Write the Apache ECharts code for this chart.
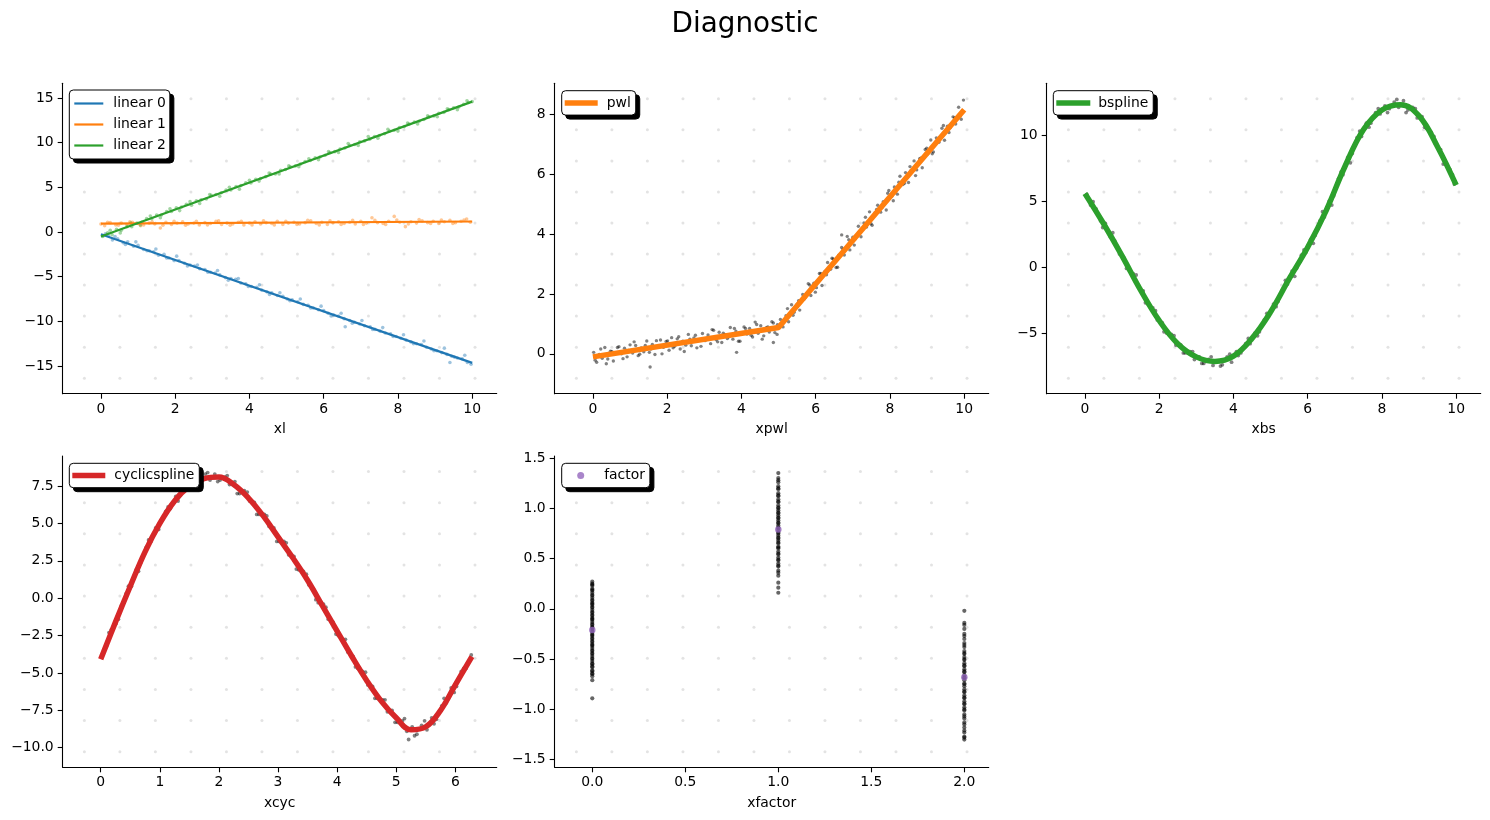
<!DOCTYPE html>
<html>
<head>
<meta charset="utf-8">
<title>Diagnostic</title>
<script src="https://cdn.jsdelivr.net/npm/echarts@6/dist/echarts.min.js"></script>
<style>
  html, body { margin: 0; padding: 0; background: #fff; }
  #chart { width: 1490px; height: 820px; }
</style>
</head>
<body>
<div id="chart"></div>
<script>
// ---------------- data ----------------
// panel 1: three linear terms, fitted lines + partial residuals
const lin0Line = [[0, -0.25], [10, -14.65]];
const lin1Line = [[0, 0.93], [10, 1.18]];
const lin2Line = [[0, -0.5], [10, 14.6]];

const lin0Pts = [[0.05,-0.4],[0.2,-0.4],[0.31,-0.9],[0.45,-0.75],[0.6,-1.2],[0.72,-1.1],[0.88,-1.6],[1.0,-1.5],[1.15,-1.95],[1.3,-2.1],[1.42,-2.2],[1.55,-2.6],[1.7,-2.5],[1.83,-2.9],[1.97,-3.2],[2.1,-3.2],[2.25,-3.5],[2.4,-3.7],[2.52,-3.8],[2.66,-4.1],[2.8,-4.2],[2.95,-4.5],[3.08,-4.6],[3.2,-4.8],[3.35,-5.1],[3.5,-5.2],[3.63,-5.3],[3.77,-5.7],[3.9,-5.8],[4.05,-6.1],[4.2,-6.2],[4.33,-6.5],[4.47,-6.7],[4.6,-6.8],[4.75,-7.1],[4.9,-7.2],[5.02,-7.5],[5.15,-7.6],[5.3,-7.8],[5.45,-8.1],[5.58,-8.2],[5.72,-8.5],[5.86,-8.7],[6.0,-8.8],[6.12,-9.1],[6.27,-9.3],[6.4,-9.4],[6.55,-9.7],[6.58,-10.6],[6.7,-9.9],[6.83,-10.1],[6.97,-10.3],[7.1,-10.5],[7.25,-10.6],[7.38,-10.9],[7.52,-11.1],[7.66,-11.3],[7.8,-11.4],[7.95,-11.7],[8.08,-11.9],[8.22,-12.1],[8.35,-12.3],[8.5,-12.5],[8.63,-12.6],[8.77,-12.9],[8.9,-13.1],[9.05,-13.3],[9.18,-13.5],[9.32,-13.7],[9.4,-14.6],[9.45,-13.9],[9.6,-14.1],[9.73,-14.2],[9.87,-14.6],[9.97,-14.8],
  [0.12,-0.2],[0.38,-0.5],[0.66,-1.4],[0.94,-1.1],[1.24,-2.1],[1.48,-1.9],[1.77,-2.9],[2.04,-2.7],[2.33,-3.8],[2.6,-3.7],[2.88,-4.5],[3.14,-4.3],[3.43,-5.4],[3.7,-5.2],[3.97,-6.1],[4.27,-5.9],[4.54,-7.0],[4.82,-6.8],[5.09,-7.7],[5.37,-7.5],[5.65,-8.5],[5.93,-8.3],[6.2,-9.4],[6.47,-9.1],[6.77,-10.2],[7.03,-9.9],[7.32,-10.9],[7.59,-10.7],[7.87,-11.7],[8.15,-11.5],[8.42,-12.5],[8.7,-12.2],[8.97,-13.3],[9.25,-13.0],[9.52,-14.0],[9.8,-13.8]];
const lin1Pts = [[0.0,0.9],[0.1,0.7],[0.25,1.05],[0.4,0.8],[0.55,1.0],[0.7,0.85],[0.85,1.1],[1.0,0.95],[1.15,0.8],[1.3,1.0],[1.45,0.9],[1.6,0.45],[1.75,1.1],[1.9,0.85],[2.05,1.0],[2.2,1.15],[2.35,0.9],[2.5,1.0],[2.65,0.8],[2.8,1.05],[2.95,0.95],[3.1,1.2],[3.25,0.85],[3.4,1.0],[3.55,0.9],[3.7,1.1],[3.85,0.8],[4.0,1.0],[4.15,1.15],[4.3,0.9],[4.45,1.05],[4.6,0.95],[4.75,1.2],[4.9,0.85],[5.05,1.0],[5.2,1.1],[5.35,0.9],[5.5,1.05],[5.65,1.25],[5.8,0.95],[5.95,1.1],[6.1,0.85],[6.25,1.05],[6.4,1.15],[6.55,0.95],[6.7,1.1],[6.85,0.9],[7.0,1.2],[7.15,1.0],[7.3,1.6],[7.45,1.05],[7.6,0.95],[7.75,1.2],[7.9,1.75],[8.05,1.1],[8.2,0.6],[8.35,1.15],[8.5,1.0],[8.65,1.25],[8.8,1.05],[8.95,1.2],[9.1,0.95],[9.25,1.15],[9.4,1.3],[9.55,1.05],[9.7,1.2],[9.85,1.45],[9.95,1.1],
  [0.18,1.1],[0.47,0.75],[0.78,1.15],[1.07,0.7],[1.38,1.15],[1.67,0.75],[1.97,1.2],[2.28,0.75],[2.57,1.2],[2.87,0.8],[3.17,1.25],[3.48,0.75],[3.78,1.2],[4.07,0.8],[4.38,1.25],[4.67,0.8],[4.98,1.2],[5.28,0.85],[5.57,1.3],[5.88,0.8],[6.17,1.25],[6.47,0.85],[6.78,1.3],[7.07,0.85],[7.38,1.3],[7.67,0.85],[7.97,1.35],[8.28,0.9],[8.57,1.4],[8.88,0.95],[9.17,1.35],[9.48,0.95],[9.78,1.35]];
const lin2Pts = [[0.05,-0.5],[0.18,-0.1],[0.3,-0.3],[0.42,0.3],[0.55,0.2],[0.7,0.6],[0.83,0.6],[0.97,1.0],[1.1,1.1],[1.23,1.5],[1.37,1.5],[1.5,1.9],[1.63,1.9],[1.77,2.3],[1.9,2.3],[2.03,2.7],[2.17,2.8],[2.3,3.1],[2.44,3.0],[2.57,3.5],[2.7,3.6],[2.84,3.7],[2.97,4.1],[3.1,4.2],[3.24,4.4],[3.37,4.7],[3.5,4.7],[3.64,5.1],[3.77,5.2],[3.9,5.5],[4.04,5.5],[4.17,5.9],[4.3,6.0],[4.44,6.2],[4.57,6.5],[4.7,6.5],[4.84,6.9],[4.97,7.0],[5.1,7.3],[5.24,7.4],[5.37,7.6],[5.5,7.9],[5.64,8.0],[5.77,8.3],[5.9,8.4],[6.04,8.6],[6.17,8.9],[6.3,9.0],[6.44,9.3],[6.57,9.4],[6.7,9.7],[6.84,9.8],[6.97,10.1],[7.1,10.2],[7.24,10.4],[7.37,10.7],[7.5,10.8],[7.64,11.0],[7.77,11.3],[7.9,11.4],[8.04,11.7],[8.17,11.8],[8.3,12.1],[8.44,12.3],[8.57,12.4],[8.7,12.6],[8.84,12.9],[8.97,13.0],[9.1,13.3],[9.24,13.4],[9.37,13.7],[9.5,13.9],[9.64,14.0],[9.77,14.3],[9.9,14.5],[10.0,14.6],
  [0.25,0.2],[0.52,-0.1],[0.8,1.0],[1.06,0.8],[1.33,1.8],[1.6,1.6],[1.86,2.6],[2.12,2.4],[2.4,3.4],[2.66,3.2],[2.93,4.2],[3.2,4.0],[3.46,5.0],[3.73,4.8],[4.0,5.8],[4.26,5.7],[4.53,6.6],[4.8,6.5],[5.06,7.4],[5.33,7.3],[5.6,8.2],[5.86,8.1],[6.13,9.0],[6.4,8.9],[6.66,9.9],[6.93,9.7],[7.2,10.7],[7.46,10.5],[7.73,11.5],[8.0,11.3],[8.26,12.2],[8.53,12.1],[8.8,13.0],[9.06,12.9],[9.33,13.8],[9.6,13.7],[9.86,14.7]];

// panel 2: piecewise linear
const pwlLine = [[0, -0.1], [5, 0.88], [10, 8.15]];
const pwlPts = [[0.02,0.05],[0.1,-0.28],[0.17,-0.02],[0.25,-0.15],[0.32,0.21],[0.4,-0.17],[0.47,0.09],[0.55,-0.24],[0.62,0.02],[0.7,0.24],[0.77,0.0],[0.85,0.19],[0.92,-0.1],[1.0,0.3],[1.07,0.03],[1.15,0.28],[1.22,-0.06],[1.3,0.2],[1.37,0.07],[1.45,0.43],[1.52,0.05],[1.54,-0.44],[1.6,0.31],[1.67,-0.02],[1.75,0.24],[1.82,0.46],[1.9,0.22],[1.97,0.41],[2.05,0.12],[2.12,0.54],[2.2,0.25],[2.27,0.5],[2.35,0.16],[2.42,0.42],[2.5,0.29],[2.57,0.65],[2.65,0.27],[2.72,0.53],[2.8,0.2],[2.87,0.46],[2.95,0.68],[3.02,0.44],[3.1,0.63],[3.17,0.34],[3.25,0.79],[3.32,0.47],[3.4,0.72],[3.47,0.38],[3.55,0.65],[3.62,0.51],[3.7,0.88],[3.77,0.49],[3.85,0.76],[3.87,0.05],[3.92,0.42],[4.0,0.68],[4.07,0.9],[4.15,0.66],[4.22,0.85],[4.3,0.56],[4.37,1.06],[4.45,0.69],[4.52,0.94],[4.6,0.6],[4.67,0.87],[4.75,0.73],[4.82,1.07],[4.86,0.38],[4.9,0.71],[4.97,0.97],[5.05,1.15],[5.12,0.9],[5.2,1.27],[5.27,1.07],[5.35,1.64],[5.42,1.39],[5.5,1.66],[5.57,1.46],[5.65,1.98],[5.72,1.88],[5.8,2.34],[5.87,1.95],[5.95,2.36],[6.02,2.21],[6.1,2.68],[6.17,2.28],[6.25,2.75],[6.32,3.05],[6.4,2.82],[6.47,3.17],[6.55,2.88],[6.62,3.29],[6.7,3.55],[6.7,3.97],[6.77,3.3],[6.85,3.92],[6.92,3.47],[7.0,3.89],[7.07,3.84],[7.15,4.26],[7.22,3.91],[7.3,4.37],[7.37,4.23],[7.45,4.74],[7.52,4.29],[7.6,4.71],[7.67,4.96],[7.75,4.73],[7.82,5.08],[7.9,4.8],[7.97,5.45],[8.05,5.26],[8.12,5.57],[8.2,5.33],[8.27,5.93],[8.35,5.65],[8.42,6.05],[8.5,5.72],[8.57,6.12],[8.65,6.44],[8.72,6.14],[8.8,6.51],[8.87,6.21],[8.95,6.82],[9.02,6.68],[9.1,7.14],[9.17,6.74],[9.25,7.21],[9.32,7.06],[9.4,7.53],[9.47,7.13],[9.55,7.6],[9.62,7.55],[9.7,7.91],[9.77,7.67],[9.85,8.23],[9.92,7.83],[9.98,8.47],
  [0.06,-0.21],[0.21,0.16],[0.36,-0.33],[0.51,0.08],[0.66,0.21],[0.81,-0.16],[0.96,0.11],[1.11,0.4],[1.26,-0.01],[1.41,0.28],[1.56,0.16],[1.71,0.44],[1.86,0.0],[2.01,0.43],[2.16,0.2],[2.31,0.57],[2.46,0.08],[2.61,0.49],[2.76,0.62],[2.91,0.25],[3.06,0.52],[3.21,0.81],[3.36,0.4],[3.51,0.69],[3.66,0.57],[3.81,0.85],[3.96,0.42],[4.11,0.85],[4.26,0.62],[4.41,0.98],[4.56,0.49],[4.71,0.9],[4.86,1.03],[4.96,0.65],[5.09,1.03],[5.24,1.51],[5.39,1.29],[5.54,1.77],[5.69,1.83],[5.84,2.3],[5.99,2.06],[6.14,2.68],[6.29,2.64],[6.44,3.19],[6.59,2.89],[6.74,3.49],[6.89,3.81],[7.04,3.63],[7.19,4.08],[7.34,4.56],[7.49,4.34],[7.64,4.82],[7.79,4.89],[7.94,5.36],[8.09,5.11],[8.24,5.73],[8.39,5.69],[8.54,6.25],[8.69,5.95],[8.84,6.54],[8.99,6.86],[9.14,6.68],[9.29,7.14],[9.44,7.62],[9.59,7.39],[9.74,7.87],[9.89,7.94]];

// panel 3: b-spline
const bsX = [0,0.5,1,1.5,2,2.5,3,3.5,4,4.5,5,5.5,6,6.5,7,7.5,8,8.5,9,9.5,10];
const bsY = [5.58,3.3,0.85,-1.75,-4.05,-5.8,-6.8,-7.15,-6.75,-5.4,-3.4,-0.9,1.5,4.3,7.6,10.4,11.9,12.3,11.45,9.1,6.2];
const bsPts = [[0.05,5.5],[0.15,4.7],[0.3,4.4],[0.42,3.5],[0.55,3.3],[0.68,2.3],[0.8,2.0],[0.93,1.0],[1.05,0.7],[1.18,-0.2],[1.3,-0.5],[1.45,-1.5],[1.57,-1.8],[1.7,-2.8],[1.83,-3.1],[1.95,-4.0],[2.08,-4.2],[2.2,-5.0],[2.33,-5.1],[2.45,-5.9],[2.58,-5.9],[2.7,-6.5],[2.83,-6.4],[2.95,-7.0],[3.08,-6.8],[3.2,-7.3],[3.33,-7.0],[3.45,-7.45],[3.58,-7.1],[3.7,-7.4],[3.83,-6.8],[3.95,-7.2],[4.08,-6.4],[4.2,-6.5],[4.33,-5.8],[4.45,-5.8],[4.58,-5.0],[4.7,-4.9],[4.83,-4.0],[4.95,-3.7],[5.08,-2.8],[5.2,-2.6],[5.33,-1.7],[5.45,-1.3],[5.58,-0.3],[5.7,-0.1],[5.83,0.9],[5.95,1.1],[6.08,2.1],[6.2,2.4],[6.33,3.5],[6.45,3.8],[6.58,5.0],[6.7,5.4],[6.83,6.7],[6.95,7.0],[7.08,8.3],[7.2,8.6],[7.33,9.8],[7.45,9.9],[7.58,10.9],[7.7,10.9],[7.83,11.7],[7.95,11.6],[8.08,12.2],[8.2,12.0],[8.33,12.5],[8.45,12.1],[8.58,12.6],[8.7,11.9],[8.83,12.1],[8.95,11.3],[9.08,11.4],[9.2,10.5],[9.33,10.2],[9.45,9.3],[9.58,8.9],[9.7,7.9],[9.83,7.4],[9.95,6.3],
  [0.22,4.95],[0.48,3.0],[0.75,2.6],[1.12,-0.1],[1.38,-0.6],[1.63,-2.7],[1.9,-3.3],[2.13,-4.9],[2.4,-5.2],[2.65,-6.5],[2.9,-6.4],[3.15,-7.3],[3.4,-6.8],[3.65,-7.5],[3.9,-6.6],[4.13,-6.7],[4.4,-5.4],[4.65,-5.2],[4.9,-3.5],[5.15,-3.0],[5.4,-1.0],[5.65,-0.7],[5.9,1.3],[6.15,1.8],[6.4,4.2],[6.65,4.7],[6.9,7.2],[7.15,7.9],[7.4,10.3],[7.65,10.6],[7.9,12.0],[8.15,11.7],[8.4,12.7],[8.65,11.7],[8.9,12.0],[9.15,10.6],[9.4,9.9],[9.65,7.8],[9.9,7.0]];

// panel 4: cyclic spline
const cycX = [0,0.25,0.5,0.75,1,1.25,1.5,1.75,2,2.25,2.5,2.75,3,3.25,3.5,3.75,4,4.25,4.5,4.75,5,5.25,5.5,5.75,6,6.28];
const cycY = [-4.09,-1.6,0.8,3.1,5.0,6.5,7.5,8.0,8.1,7.6,6.7,5.5,4.1,2.7,1.2,-0.5,-2.2,-3.9,-5.5,-6.9,-8.0,-8.8,-8.6,-7.5,-5.8,-3.91];
const cycPts = [[0.03,-3.8],[0.1,-3.2],[0.18,-2.1],[0.26,-1.7],[0.35,-0.5],[0.43,0.3],[0.52,0.8],[0.6,1.9],[0.68,2.4],[0.77,3.4],[0.85,3.8],[0.93,4.7],[1.02,5.1],[1.1,5.8],[1.18,6.0],[1.27,6.8],[1.35,6.9],[1.43,7.5],[1.52,7.4],[1.6,7.9],[1.68,7.7],[1.77,8.3],[1.85,7.9],[1.93,8.3],[2.02,7.9],[2.1,8.1],[2.18,7.6],[2.27,7.8],[2.35,7.0],[2.43,7.2],[2.52,6.5],[2.6,6.4],[2.68,5.6],[2.77,5.6],[2.85,4.8],[2.93,4.7],[3.02,3.8],[3.1,3.8],[3.18,2.9],[3.27,2.8],[3.35,1.9],[3.43,1.8],[3.52,0.9],[3.6,0.6],[3.68,-0.3],[3.77,-0.4],[3.85,-1.4],[3.93,-1.6],[4.02,-2.5],[4.1,-2.8],[4.18,-3.6],[4.27,-3.9],[4.35,-4.7],[4.43,-4.9],[4.52,-5.8],[4.6,-5.9],[4.68,-6.7],[4.77,-6.8],[4.85,-7.6],[4.93,-7.5],[5.02,-8.3],[5.1,-8.2],[5.18,-8.9],[5.21,-9.45],[5.27,-8.6],[5.35,-9.1],[5.43,-8.5],[5.52,-8.8],[5.6,-8.0],[5.68,-8.1],[5.77,-7.2],[5.85,-7.0],[5.93,-6.0],[6.02,-5.9],[6.1,-4.9],[6.18,-4.7],[6.27,-3.8],
  [0.14,-2.3],[0.3,-1.4],[0.47,0.8],[0.64,1.8],[0.81,3.9],[0.98,4.6],[1.14,6.1],[1.31,6.5],[1.47,7.6],[1.64,7.6],[1.81,8.4],[1.98,7.8],[2.14,8.2],[2.31,7.0],[2.48,7.1],[2.64,5.6],[2.81,5.5],[2.98,3.8],[3.14,3.7],[3.31,1.95],[3.48,1.6],[3.64,-0.1],[3.81,-0.6],[3.98,-2.4],[4.14,-2.75],[4.31,-4.6],[4.48,-4.95],[4.64,-6.7],[4.81,-6.8],[4.98,-8.3],[5.14,-8.05],[5.31,-9.2],[5.48,-8.2],[5.64,-8.4],[5.81,-6.7],[5.98,-6.3],[6.14,-4.7]];

// panel 5: factor term
const factorLevels = [0, 1, 2];
const factorMeans = [-0.21, 0.79, -0.68];
const factor0Y = [0.27,0.25,0.24,0.23,0.2,0.19,0.18,0.16,0.14,0.13,0.11,0.09,0.08,0.06,0.05,0.04,0.02,0.01,-0.01,-0.03,-0.04,-0.06,-0.07,-0.09,-0.1,-0.11,-0.13,-0.15,-0.16,-0.18,-0.19,-0.2,-0.22,-0.23,-0.25,-0.26,-0.27,-0.29,-0.3,-0.32,-0.33,-0.35,-0.36,-0.37,-0.39,-0.41,-0.42,-0.44,-0.45,-0.47,-0.49,-0.5,-0.52,-0.54,-0.55,-0.57,-0.58,-0.61,-0.62,-0.64,-0.65,-0.67,-0.71,-0.89];
const factor1Y = [1.35,1.3,1.28,1.26,1.22,1.2,1.19,1.15,1.13,1.12,1.09,1.07,1.06,1.03,1.01,1.0,0.98,0.96,0.95,0.93,0.91,0.9,0.88,0.86,0.85,0.83,0.81,0.8,0.78,0.76,0.75,0.73,0.71,0.7,0.68,0.66,0.65,0.62,0.61,0.6,0.57,0.55,0.54,0.51,0.49,0.48,0.45,0.43,0.42,0.38,0.36,0.33,0.26,0.21,0.16];
const factor2Y = [-0.02,-0.14,-0.16,-0.2,-0.25,-0.27,-0.3,-0.34,-0.36,-0.38,-0.42,-0.44,-0.45,-0.48,-0.5,-0.51,-0.54,-0.56,-0.57,-0.6,-0.62,-0.63,-0.66,-0.68,-0.69,-0.71,-0.74,-0.75,-0.77,-0.8,-0.82,-0.83,-0.86,-0.88,-0.89,-0.92,-0.94,-0.95,-0.98,-1.0,-1.01,-1.05,-1.07,-1.09,-1.13,-1.15,-1.18,-1.21,-1.23,-1.27,-1.28,-1.3];

// tick labels
const ticks0to10 = [0, 2, 4, 6, 8, 10];
const ticksLinY = [-15, -10, -5, 0, 5, 10, 15];
const ticksPwlY = [0, 2, 4, 6, 8];
const ticksBsY = [-5, 0, 5, 10];
const ticksCycX = [0, 1, 2, 3, 4, 5, 6];
const ticksCycY = [-10, -7.5, -5, -2.5, 0, 2.5, 5, 7.5];
const ticksFacX = [0, 0.5, 1, 1.5, 2];
const ticksFacY = [-1.5, -1, -0.5, 0, 0.5, 1, 1.5];

// background dot texture, in axes fractions
const dotCols = [0.05,0.1318,0.2136,0.2955,0.3773,0.4591,0.5409,0.6227,0.7045,0.7864,0.8682,0.95];
const dotRows = [0.05,0.15,0.25,0.35,0.45,0.55,0.65,0.75,0.85,0.95];

// ---------------- chart ----------------
const FONT = 'DejaVu Sans';
const FS = 13.9;
const BLUE = '#1f77b4', ORANGE = '#ff7f0e', GREEN = '#2ca02c', RED = '#d62728', PURPLE = '#9467bd';
const PTS = 'rgba(0,0,0,0.62)';
const CLEAR = 'rgba(0,0,0,0)';

const boxes = [
  { left: 62.7, top: 83.3, width: 434, height: 310.4 },
  { left: 554.7, top: 83.3, width: 434, height: 310.4 },
  { left: 1046.7, top: 83.3, width: 434, height: 310.4 },
  { left: 62.7, top: 456, width: 434, height: 311.3 },
  { left: 554.7, top: 456, width: 434, height: 311.3 }
];

function fmt(dec) {
  return v => (dec ? Number(v).toFixed(dec) : String(v)).replace('-', '\u2212');
}

function xAx(i, min, max, ticks, dec, name) {
  return {
    type: 'value', gridIndex: i, min: min, max: max,
    name: name, nameLocation: 'middle', nameGap: 29,
    nameTextStyle: { fontFamily: FONT, fontSize: FS, color: '#000' },
    axisLine: { show: true, onZero: false, lineStyle: { color: '#000', width: 1.1 } },
    axisTick: { show: true, length: 5, customValues: ticks, lineStyle: { color: '#000', width: 1.1 } },
    axisLabel: { customValues: ticks, formatter: fmt(dec), margin: 8.5,
      fontFamily: FONT, fontSize: FS, color: '#000' },
    splitLine: { show: false }
  };
}
function yAx(i, min, max, ticks, dec) {
  return {
    type: 'value', gridIndex: i, min: min, max: max,
    axisLine: { show: true, onZero: false, lineStyle: { color: '#000', width: 1.1 } },
    axisTick: { show: true, length: 5, customValues: ticks, lineStyle: { color: '#000', width: 1.1 } },
    axisLabel: { customValues: ticks, formatter: fmt(dec), margin: 9,
      fontFamily: FONT, fontSize: FS, color: '#000' },
    splitLine: { show: false }
  };
}
function hiddenAx(i) {
  return { type: 'value', gridIndex: i, min: 0, max: 1, show: false };
}

const xAxes = [
  xAx(0, -1.03, 10.66, ticks0to10, 0, 'xl'),
  xAx(1, -1.03, 10.66, ticks0to10, 0, 'xpwl'),
  xAx(2, -1.03, 10.66, ticks0to10, 0, 'xbs'),
  xAx(3, -0.643, 6.70, ticksCycX, 0, 'xcyc'),
  xAx(4, -0.202, 2.131, ticksFacX, 1, 'xfactor')
];
const yAxes = [
  yAx(0, -18.1, 16.65, ticksLinY, 0),
  yAx(1, -1.33, 9.03, ticksPwlY, 0),
  yAx(2, -9.59, 13.92, ticksBsY, 0),
  yAx(3, -11.31, 9.51, ticksCycY, 1),
  yAx(4, -1.576, 1.52, ticksFacY, 1)
];
for (let i = 0; i < 5; i++) { xAxes.push(hiddenAx(i)); yAxes.push(hiddenAx(i)); }

const dotData = [];
dotRows.forEach(r => dotCols.forEach(c => dotData.push([c, r])));

const series = [];
for (let i = 0; i < 5; i++) {
  series.push({
    type: 'scatter', name: 'bg' + i, xAxisIndex: 5 + i, yAxisIndex: 5 + i,
    data: dotData, symbolSize: 3, silent: true, z: 0,
    itemStyle: { color: '#dcdcdc' }
  });
}

function pts(name, idx, data, color, size) {
  return { type: 'scatter', name: name, xAxisIndex: idx, yAxisIndex: idx, data: data,
    symbolSize: size || 3.4, z: 2, silent: true, itemStyle: { color: color } };
}
function line(name, idx, data, color, width, smooth) {
  return { type: 'line', name: name, xAxisIndex: idx, yAxisIndex: idx, data: data,
    symbol: 'none', smooth: smooth || false, z: 3, silent: true,
    itemStyle: { color: color }, lineStyle: { color: color, width: width, cap: 'butt' } };
}
const zip = (xs, ys) => xs.map((x, k) => [x, ys[k]]);

series.push(pts('pts lin0', 0, lin0Pts, 'rgba(31,119,180,0.55)', 3.6));
series.push(pts('pts lin1', 0, lin1Pts, 'rgba(255,127,14,0.55)', 3.6));
series.push(pts('pts lin2', 0, lin2Pts, 'rgba(44,160,44,0.55)', 3.6));
series.push(line('linear 0', 0, lin0Line, BLUE, 2.2));
series.push(line('linear 1', 0, lin1Line, ORANGE, 2.2));
series.push(line('linear 2', 0, lin2Line, GREEN, 2.2));

series.push(pts('pts pwl', 1, pwlPts, PTS));
series.push(line('pwl', 1, pwlLine, ORANGE, 5.5));

series.push(pts('pts bs', 2, bsPts, PTS, 3.8));
series.push(line('bspline', 2, zip(bsX, bsY), GREEN, 5.5, 0.4));

series.push(pts('pts cyc', 3, cycPts, PTS, 3.8));
series.push(line('cyclicspline', 3, zip(cycX, cycY), RED, 5.5, 0.4));

const facPts = [];
[factor0Y, factor1Y, factor2Y].forEach((ys, k) => ys.forEach(y => facPts.push([factorLevels[k], y])));
series.push(pts('pts factor', 4, facPts, 'rgba(0,0,0,0.75)', 4.2));
series.push(Object.assign(pts('factor', 4, zip(factorLevels, factorMeans), PURPLE, 6.5), { z: 4 }));

// a legend box plus a solid black copy behind it, offset down-right, as its shadow
function legendPair(names, left, top, cfg) {
  const base = {
    data: names, orient: 'vertical', icon: cfg.icon || 'rect',
    padding: cfg.padding, itemWidth: cfg.itemWidth, itemHeight: cfg.itemHeight,
    itemGap: cfg.itemGap || 5, borderRadius: 4, selectedMode: false
  };
  const shadow = Object.assign({}, base, {
    left: left + 4, top: top + 4, z: 9,
    backgroundColor: '#000', borderColor: '#000', borderWidth: 1,
    itemStyle: { color: CLEAR, borderColor: CLEAR },
    lineStyle: { color: CLEAR },
    textStyle: { fontFamily: FONT, fontSize: FS, color: CLEAR, padding: [0, 0, 0, cfg.textPad] }
  });
  const box = Object.assign({}, base, {
    left: left, top: top, z: 10,
    backgroundColor: '#fff', borderColor: '#000', borderWidth: 1,
    textStyle: { fontFamily: FONT, fontSize: FS, color: '#000', padding: [0, 0, 0, cfg.textPad] }
  });
  return [shadow, box];
}

const legends = [].concat(
  legendPair(['linear 0', 'linear 1', 'linear 2'], 69.3, 90,
    { itemWidth: 29, itemHeight: 2.2, itemGap: 7, padding: [6.5, 4, 6.5, 5], textPad: 5 }),
  legendPair(['pwl'], 561.7, 90.7,
    { itemWidth: 33, itemHeight: 5.5, padding: [5.2, 5, 5.2, 3], textPad: 4 }),
  legendPair(['bspline'], 1053.3, 90.7,
    { itemWidth: 34, itemHeight: 5.5, padding: [5.2, 5, 5.2, 3], textPad: 3 }),
  legendPair(['cyclicspline'], 69.3, 463.3,
    { itemWidth: 33, itemHeight: 5.5, padding: [5.2, 5, 5.2, 3], textPad: 4 }),
  legendPair(['factor'], 561.7, 463.3,
    { icon: 'circle', itemWidth: 7, itemHeight: 7, padding: [5.2, 5, 5.2, 15.5], textPad: 15 })
);

const option = {
  animation: false,
  backgroundColor: '#fff',
  title: {
    text: 'Diagnostic', left: 'center', top: 6,
    textStyle: { fontFamily: FONT, fontSize: 27.8, fontWeight: 'normal', color: '#000' }
  },
  grid: boxes.map(b => Object.assign({ containLabel: false }, b)),
  xAxis: xAxes,
  yAxis: yAxes,
  legend: legends,
  series: series
};

const chart = echarts.init(document.getElementById('chart'));
chart.setOption(option);
</script>
</body>
</html>
